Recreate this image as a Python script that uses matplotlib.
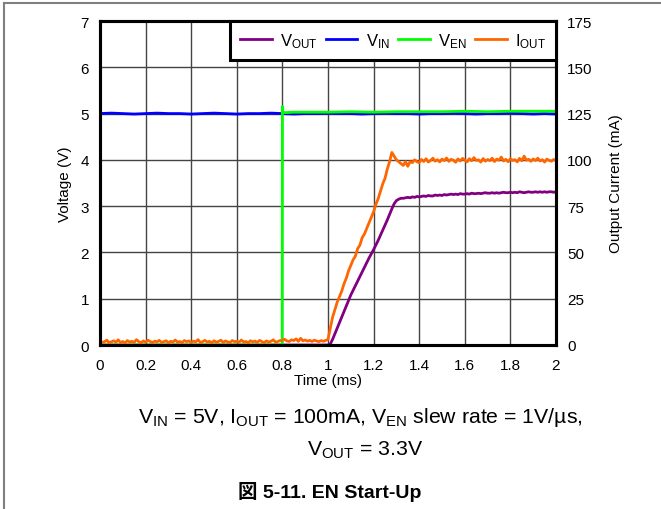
import matplotlib
matplotlib.use("Agg")
import matplotlib.pyplot as plt
from matplotlib.lines import Line2D
import numpy as np

plt.rcParams['font.family'] = ['Liberation Sans', 'Noto Sans CJK JP', 'DejaVu Sans']
plt.rcParams['mathtext.fontset'] = 'custom'
plt.rcParams['mathtext.rm'] = 'Liberation Sans'
plt.rcParams['mathtext.it'] = 'Liberation Sans:italic'
plt.rcParams['mathtext.bf'] = 'Liberation Sans:bold'

# ---------------- data ----------------
time_ms = [round(i * 0.01, 2) for i in range(201)]

iout_ma = [
    2.1, 1.4, 1.8, 2.6, 1.2, 1.7, 2.3, 1.5, 2.8, 1.3,
    1.9, 1.1, 2.4, 1.6, 2.0, 1.4, 2.9, 1.8, 1.2, 2.2,
    1.5, 2.6, 1.9, 1.3, 2.1, 1.7, 2.5, 1.4, 1.8, 2.3,
    1.2, 2.0, 1.6, 2.7, 1.5, 1.9, 1.3, 2.4, 1.8, 2.2,
    1.4, 2.1, 1.7, 2.9, 1.3, 1.8, 2.5, 1.6, 2.0, 1.2,
    2.3, 1.5, 1.9, 2.6, 1.4, 2.2, 1.7, 1.3, 2.4, 1.8,
    2.0, 1.5, 2.7, 1.6, 1.9, 1.2, 2.3, 1.7, 2.1, 1.4,
    2.5, 1.8, 1.3, 2.2, 1.6, 2.0, 2.8, 1.5, 1.9, 2.4,
    2.6, 3.1, 2.2, 1.9, 2.8, 2.4, 3.3, 2.0, 3.6, 2.3,
    2.7, 2.1, 2.5, 1.9, 2.6, 2.2, 1.8, 2.4, 2.0, 2.5,
    3.0, 9.0, 15.0, 19.0, 23.0, 26.0, 29.0, 33.0, 36.0, 40.0,
    43.0, 46.0, 48.0, 52.0, 54.0, 58.0, 60.0, 63.0, 66.0, 69.0,
    72.0, 76.0, 79.0, 83.0, 87.0, 90.0, 95.0, 99.0, 104.0, 102.0,
    100.0, 99.0, 98.0, 97.0, 99.0, 96.5, 99.0, 98.5, 100.0, 99.0,
    98.5, 100.2, 99.1, 100.6, 98.8, 99.7, 100.9, 99.3, 100.1, 98.9,
    100.4, 99.6, 101.0, 99.2, 100.3, 99.8, 98.7, 100.5, 99.4, 100.8,
    99.9, 98.9, 100.6, 99.5, 101.2, 99.7, 100.0, 98.8, 100.7, 99.3,
    100.2, 99.6, 100.9, 99.1, 100.4, 99.8, 101.5, 99.4, 100.3, 99.0,
    100.6, 99.7, 100.1, 98.9, 100.8, 99.5, 102.0, 99.8, 100.3, 99.2,
    100.5, 99.6, 100.9, 99.4, 100.1, 98.8, 100.4, 99.7, 99.3, 100.2,
    99.6,
]

vout_v = [0.0] * 100 + [
    0.00, 0.02, 0.12, 0.24, 0.36, 0.48, 0.60, 0.72, 0.84, 0.96,
    1.08, 1.18, 1.28, 1.38, 1.48, 1.58, 1.68, 1.78, 1.88, 1.97,
    2.06, 2.16, 2.26, 2.37, 2.48, 2.59, 2.70, 2.82, 2.94, 3.05,
    3.12, 3.15, 3.17, 3.17, 3.18, 3.19, 3.18, 3.20, 3.19, 3.21,
    3.20, 3.21, 3.22, 3.21, 3.23, 3.22, 3.22, 3.24, 3.23, 3.24,
    3.23, 3.25, 3.24, 3.25, 3.26, 3.25, 3.26, 3.25, 3.27, 3.26,
    3.26, 3.27, 3.26, 3.28, 3.27, 3.27, 3.28, 3.27, 3.28, 3.29,
    3.28, 3.28, 3.29, 3.28, 3.29, 3.28, 3.29, 3.30, 3.29, 3.29,
    3.30, 3.29, 3.30, 3.29, 3.31, 3.30, 3.29, 3.30, 3.31, 3.30,
    3.30, 3.31, 3.30, 3.31, 3.30, 3.31, 3.30, 3.31, 3.31, 3.30,
    3.31,
]

vin_time = [round(i * 0.05, 2) for i in range(41)]
vin_v = [
    5.00, 5.01, 5.00, 4.99, 5.00, 5.01, 5.00, 5.00, 4.99, 5.00,
    5.01, 5.00, 4.99, 5.00, 5.00, 5.01, 5.00, 4.99, 5.00, 5.00,
    5.01, 5.00, 5.00, 4.99, 5.00, 5.01, 5.00, 5.00, 4.99, 5.00,
    5.00, 5.01, 5.00, 4.99, 5.00, 5.00, 5.01, 5.00, 4.99, 5.00,
    4.99,
]

ven_time = [0.0, 0.5, 0.799, 0.800, 0.802, 0.805, 0.81, 0.85, 0.9, 1.0,
            1.1, 1.2, 1.3, 1.4, 1.5, 1.6, 1.7, 1.8, 1.9, 2.0]
ven_v = [0.0, 0.0, 0.0, 5.15, 5.03, 5.02, 5.02, 5.03, 5.03, 5.03,
         5.04, 5.03, 5.04, 5.04, 5.04, 5.05, 5.04, 5.05, 5.05, 5.05]

x_ticks = [0, 0.2, 0.4, 0.6, 0.8, 1, 1.2, 1.4, 1.6, 1.8, 2]
x_ticklabels = ['0', '0.2', '0.4', '0.6', '0.8', '1', '1.2', '1.4', '1.6', '1.8', '2']
v_ticks = [0, 1, 2, 3, 4, 5, 6, 7]
i_ticks = [0, 25, 50, 75, 100, 125, 150, 175]

c_vout = '#800080'
c_vin = '#0000ff'
c_ven = '#00ff00'
c_iout = '#ff6600'

# ---------------- figure ----------------
fig = plt.figure(figsize=(6.61, 5.10), dpi=100)
ax = fig.add_axes([100 / 661, 1 - 346 / 510, 456 / 661, 324 / 510])
ax2 = ax.twinx()

lw = 2.0
ax.plot(time_ms, vout_v, color=c_vout, lw=lw, label=r'V$_{\mathregular{OUT}}$')
ax.plot(vin_time, vin_v, color=c_vin, lw=lw, label=r'V$_{\mathregular{IN}}$')
ax.plot(ven_time, ven_v, color=c_ven, lw=lw, label=r'V$_{\mathregular{EN}}$')
ax2.plot(time_ms, iout_ma, color=c_iout, lw=lw, label=r'I$_{\mathregular{OUT}}$')

ax.set_xlim(0, 2)
ax.set_ylim(0, 7)
ax2.set_ylim(0, 175)
ax.set_xticks(x_ticks)
ax.set_xticklabels(x_ticklabels)
ax.set_yticks(v_ticks)
ax2.set_yticks(i_ticks)

ax.grid(True, color='#444444', lw=1.0)
ax.set_axisbelow(True)

fs = 11
ax.tick_params(axis='both', length=0, labelsize=fs, pad=8)
ax2.tick_params(axis='y', length=0, labelsize=fs, pad=8)
ax.tick_params(axis='x', pad=9)

ax.set_xlabel('Time (ms)', fontsize=fs, labelpad=1)
ax.set_ylabel('Voltage (V)', fontsize=fs, labelpad=6)
ax2.set_ylabel('Output Current (mA)', fontsize=fs, labelpad=12)

for a in (ax, ax2):
    for s in a.spines.values():
        s.set_linewidth(2.2)
        s.set_color('black')

handles = ax.get_lines() + ax2.get_lines()
leg = ax2.legend(handles=handles, labels=[h.get_label() for h in handles],
                 loc='upper right', ncol=4, borderaxespad=0, fancybox=False,
                 fontsize=12, handlelength=1.9, handletextpad=0.5,
                 columnspacing=0.5, borderpad=0.6, framealpha=1)
leg.get_frame().set_edgecolor('black')
leg.get_frame().set_linewidth(2.2)

# caption
fig.text(360 / 661, 1 - 418 / 510,
         r'V$_{\mathregular{IN}}$ = 5V, I$_{\mathregular{OUT}}$ = 100mA, '
         r'V$_{\mathregular{EN}}$ slew rate = 1V/µs,',
         ha='center', va='center', fontsize=15.3)
fig.text(365 / 661, 1 - 450 / 510, r'V$_{\mathregular{OUT}}$ = 3.3V',
         ha='center', va='center', fontsize=15.3)
fig.text(330 / 661, 1 - 492 / 510, '図 5-11. EN Start-Up', ha='center', va='center',
         fontsize=14, fontweight='bold')

# page border lines
fig.add_artist(Line2D([4 / 661, 1], [1 - 4 / 510, 1 - 4 / 510],
                      transform=fig.transFigure, color='#808080', lw=1.5))
fig.add_artist(Line2D([4 / 661, 4 / 661], [0, 1 - 4 / 510],
                      transform=fig.transFigure, color='#808080', lw=1.5))

fig.savefig('out.png', dpi=100)
